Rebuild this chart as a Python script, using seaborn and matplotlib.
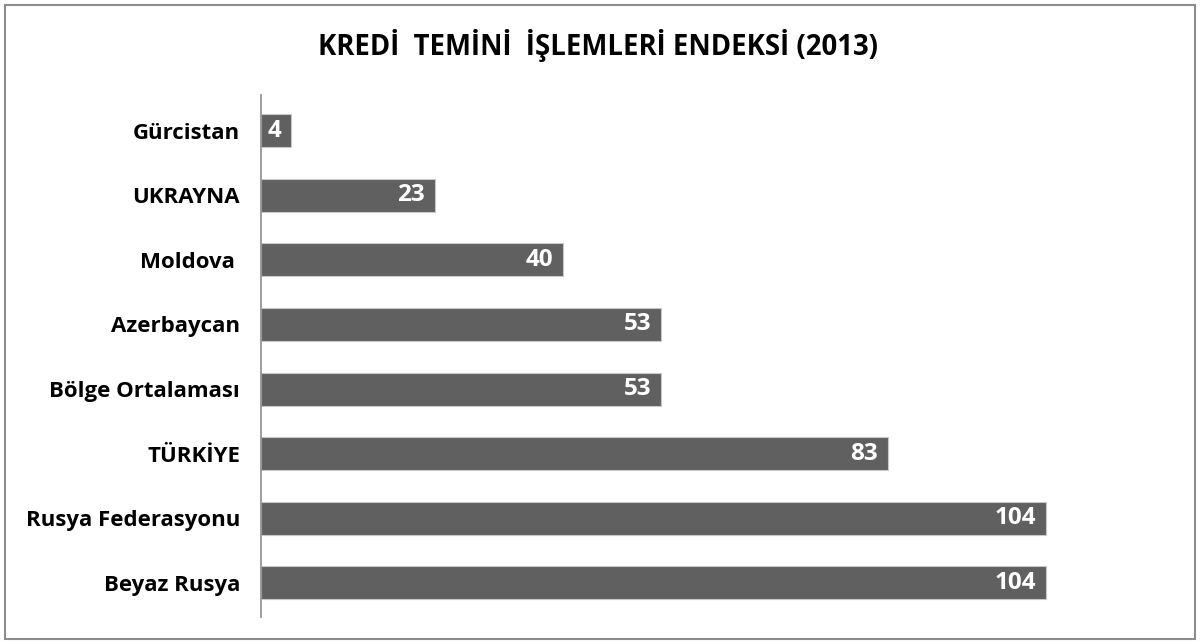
import matplotlib
matplotlib.use("Agg")
import matplotlib.pyplot as plt
import seaborn as sns
import pandas as pd
from matplotlib.patches import Rectangle

countries = ["Gürcistan", "UKRAYNA", "Moldova ", "Azerbaycan", "Bölge Ortalaması",
             "TÜRKİYE", "Rusya Federasyonu", "Beyaz Rusya"]
values = [4, 23, 40, 53, 53, 83, 104, 104]
title = "KREDİ  TEMİNİ  İŞLEMLERİ ENDEKSİ (2013)"

sns.set_theme(style="white")
plt.rcParams['font.family'] = ['Open Sans', 'DejaVu Sans']

df = pd.DataFrame({"country": countries, "value": values})

fig = plt.figure(figsize=(12, 6.44), dpi=100)
ax = fig.add_axes([0.2175, 0.042, 0.755, 0.811])
sns.barplot(data=df, y="country", x="value", orient="h", color="#606060",
            saturation=1, width=0.51, edgecolor="#c8c8c8", linewidth=0.8, ax=ax)

ax.set_xlim(0, 120)
ax.set_ylim(7.53, -0.56)
ax.set_xlabel("")
ax.set_ylabel("")
ax.set_xticks([])
for s in ["top", "right", "bottom"]:
    ax.spines[s].set_visible(False)
ax.spines["left"].set_color("#8c8c8c")
ax.spines["left"].set_linewidth(1.2)
ax.tick_params(axis="y", length=0, pad=15)
for lbl in ax.get_yticklabels():
    lbl.set_fontweight("bold")
    lbl.set_fontsize(16)
    lbl.set_color("black")

for i, v in enumerate(values):
    ax.annotate(str(v), xy=(v, i), xytext=(-7, 0), textcoords="offset points",
                ha="right", va="center", color="white", fontsize=17.5, fontweight="bold")

fig.text(0.498, 0.929, title, ha="center", va="center", fontsize=19.8,
         fontweight="bold", color="black")

fig.patches.append(Rectangle((0.004, 0.008), 0.992, 0.985, transform=fig.transFigure,
                             fill=False, edgecolor="#8c8c8c", linewidth=1.5))

fig.savefig("out.png", dpi=100, facecolor="white")
